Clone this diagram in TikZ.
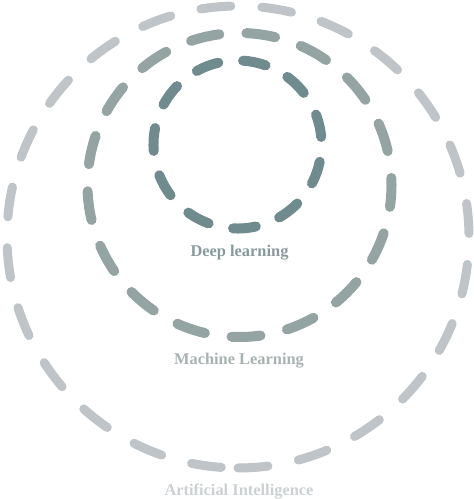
\documentclass[tikz,border=0pt]{standalone}
\usepackage{fontspec}
\setmainfont{Liberation Serif}[Ligatures=NoCommon]
\definecolor{aiC}{HTML}{BEC4C7}
\definecolor{mlC}{HTML}{93A4A2}
\definecolor{dlC}{HTML}{6F8B8D}
\definecolor{aiT}{HTML}{CBD0D2}
\definecolor{mlT}{HTML}{A8B2B2}
\definecolor{dlT}{HTML}{889B9C}
\begin{document}
\begin{tikzpicture}[x=1pt,y=1pt,
  ring/.style={line cap=round},
  lbl/.style={font=\bfseries\fontsize{16.4}{18}\selectfont, anchor=base, inner sep=0pt}]
\useasboundingbox (0,0) rectangle (474,499);
\coordinate (ai) at (238,262);
\coordinate (ml) at (239.5,314);
\coordinate (dl) at (237.5,354.5);
\draw[ring, line width=9pt, color=aiC, dash pattern=on 30pt off 31.08pt]
  (ai) ++(-90:231pt) arc[start angle=-90, delta angle=360, radius=231pt];
\draw[ring, line width=10pt, color=mlC, dash pattern=on 29pt off 27.2pt]
  (ml) ++(-93:152pt) arc[start angle=-93, delta angle=360, radius=152pt];
\draw[ring, line width=10pt, color=dlC, dash pattern=on 23pt off 25pt]
  (dl) ++(70.5:84pt) arc[start angle=70.5, delta angle=360, radius=84pt];
\node[lbl, text=dlT] (dlt) at (239.5,242) {Deep learning};
\node[lbl, text=mlT] (mlt) at (239,134) {Machine Learning};
\node[lbl, text=aiT] (ait) at (239,3) {Artificial Intelligence};
\end{tikzpicture}
\end{document}
